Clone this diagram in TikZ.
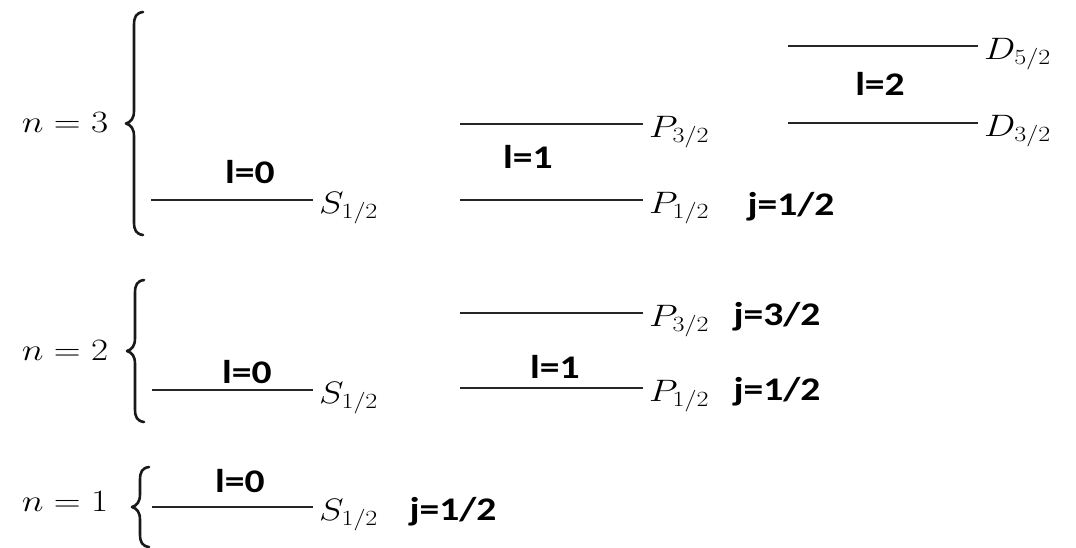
\RequirePackage{fix-cm}
\documentclass[tikz,border=0pt]{standalone}
\usepackage{fontspec}
\usepackage{graphicx}
\newfontfamily\labelfont{Carlito}

% sizes and horizontal stretch of the two kinds of text
\newcommand\mathsize{\fontsize{31}{36}\selectfont}
\newcommand\wide[1]{\scalebox{1.2}[1]{#1}}
\newcommand\qlab[1]{\scalebox{1.2}[1]{\fontsize{33}{38}\selectfont\labelfont\bfseries #1}}

% curly brace: stem x, top y, bottom y
\newcommand\curlybrace[3]{%
  \pgfmathsetmacro\bm{(#2+#3)/2}%
  \draw[bracestroke] (#1+9,#2) .. controls (#1+2,#2+1) and (#1,#2+5) .. (#1,#2+13)
    -- (#1,\bm-13) .. controls (#1,\bm-5) and (#1-3,\bm-1.5) .. (#1-8,\bm)
    .. controls (#1-3,\bm+1.5) and (#1,\bm+5) .. (#1,\bm+13)
    -- (#1,#3-13) .. controls (#1,#3-5) and (#1+2,#3-1) .. (#1+9,#3);}

\begin{document}
\begin{tikzpicture}[x=1pt,y=-1pt,
  level/.style={line width=1.6pt, draw=black!85},
  bracestroke/.style={line width=2.6pt, draw=black!90, line cap=round, line join=round},
  statelab/.style={anchor=base west, inner sep=0pt, font=\mathsize},
  nlab/.style={anchor=base, inner sep=0pt, font=\mathsize},
  qnum/.style={anchor=base, inner sep=0pt},
]
\useasboundingbox (0,0) rectangle (1076,547);

% principal quantum number labels and braces
\node[nlab] (n3) at (65,132) {\wide{$n=3$}};
\node[nlab] (n2) at (65,360) {\wide{$n=2$}};
\node[nlab] (n1) at (65,511) {\wide{$n=1$}};
\curlybrace{134}{12}{235}
\curlybrace{135}{280}{422}
\curlybrace{140}{467}{547}

% n = 3 levels
\coordinate (s3a) at (151,200); \coordinate (s3b) at (313,200);
\coordinate (p33a) at (460,124); \coordinate (p33b) at (643,124);
\coordinate (p31a) at (460,200); \coordinate (p31b) at (643,200);
\coordinate (d35a) at (788,46); \coordinate (d35b) at (978,46);
\coordinate (d33a) at (788,123); \coordinate (d33b) at (978,123);
\draw[level] (s3a) -- (s3b);
\draw[level] (p33a) -- (p33b);
\draw[level] (p31a) -- (p31b);
\draw[level] (d35a) -- (d35b);
\draw[level] (d33a) -- (d33b);
\node[statelab] (s3l) at ([shift={(6,13)}]s3b) {\wide{$S_{1/2}$}};
\node[statelab] (p33l) at ([shift={(6,13)}]p33b) {\wide{$P_{3/2}$}};
\node[statelab] (p31l) at ([shift={(6,13)}]p31b) {\wide{$P_{1/2}$}};
\node[statelab] (d35l) at ([shift={(6,13)}]d35b) {\wide{$D_{5/2}$}};
\node[statelab] (d33l) at ([shift={(6,13)}]d33b) {\wide{$D_{3/2}$}};
\node[qnum] (l30) at (250,183) {\qlab{l=0}};
\node[qnum] (l31) at (528,168) {\qlab{l=1}};
\node[qnum] (l32) at (880,95) {\qlab{l=2}};
\node[qnum] (j31) at (791,215) {\qlab{j=1/2}};

% n = 2 levels
\coordinate (s2a) at (152,390); \coordinate (s2b) at (313,390);
\coordinate (p23a) at (460,313); \coordinate (p23b) at (643,313);
\coordinate (p21a) at (460,388); \coordinate (p21b) at (643,388);
\draw[level] (s2a) -- (s2b);
\draw[level] (p23a) -- (p23b);
\draw[level] (p21a) -- (p21b);
\node[statelab] (s2l) at ([shift={(6,13)}]s2b) {\wide{$S_{1/2}$}};
\node[statelab] (p23l) at ([shift={(6,13)}]p23b) {\wide{$P_{3/2}$}};
\node[statelab] (p21l) at ([shift={(6,13)}]p21b) {\wide{$P_{1/2}$}};
\node[qnum] (l20) at (247,383) {\qlab{l=0}};
\node[qnum] (l21) at (555,378) {\qlab{l=1}};
\node[qnum] (j23) at (777,325) {\qlab{j=3/2}};
\node[qnum] (j21) at (777,400) {\qlab{j=1/2}};

% n = 1 level
\coordinate (s1a) at (152,507); \coordinate (s1b) at (313,507);
\draw[level] (s1a) -- (s1b);
\node[statelab] (s1l) at ([shift={(6,13)}]s1b) {\wide{$S_{1/2}$}};
\node[qnum] (l10) at (240,492) {\qlab{l=0}};
\node[qnum] (j11) at (453,520) {\qlab{j=1/2}};
\end{tikzpicture}
\end{document}
